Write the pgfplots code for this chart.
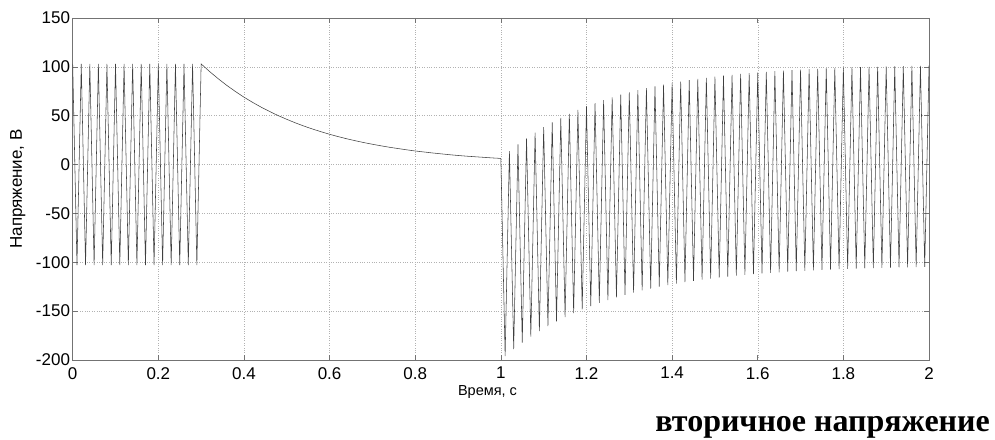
\documentclass[border=0pt]{standalone}
\usepackage{fontspec}
\setmainfont{Liberation Sans}
\newfontfamily\capfont{Liberation Serif}
\usepackage{pgfplots}
\pgfplotsset{compat=1.18}

\begin{document}
\begin{tikzpicture}
\begin{axis}[
  name=ax,
  scale only axis,
  width=856.3bp, height=342bp,
  xmin=0, xmax=2, ymin=-200, ymax=150,
  xtick={0,0.2,0.4,0.6,0.8,1,1.2,1.4,1.6,1.8,2},
  xticklabels={0,0.2,0.4,0.6,0.8,1,1.2,1.4,1.6,1.8,2},
  ytick={-200,-150,-100,-50,0,50,100,150},
  yticklabels={-200,-150,-100,-50,0,50,100,150},
  tick align=inside, tick pos=both,
  major tick length=5bp,
  axis line style={black!55, line width=0.7bp},
  every tick/.style={black!55, line width=0.6bp},
  grid=major,
  grid style={dotted, black!30, line width=0.45bp},
  ticklabel style={font=\fontsize{17bp}{19bp}\selectfont, inner sep=0pt},
  xticklabel style={yshift=-7bp},
  yticklabel style={xshift=-2.5bp},
  xlabel={Время, с},
  xlabel style={at={(axis description cs:0.4844,0)}, anchor=north, yshift=-25bp,
    inner sep=0pt, font=\fontsize{14.5bp}{16bp}\selectfont},
  ylabel={Напряжение, В},
  ylabel style={at={(axis description cs:0,0.5)}, anchor=south, xshift=0bp,
    yshift=47bp, inner sep=0pt, font=\fontsize{17bp}{19bp}\selectfont},
]
% 0 ... 0.3 s: steady 50 Hz, then free decay, then reclosure at 1 s
\addplot[black!75, line width=0.55bp] coordinates {
(0.00,103)(0.01,-103)(0.02,103)(0.03,-103)(0.04,103)(0.05,-103)
(0.06,103)(0.07,-103)(0.08,103)(0.09,-103)(0.10,103)(0.11,-103)
(0.12,103)(0.13,-103)(0.14,103)(0.15,-103)(0.16,103)(0.17,-103)
(0.18,103)(0.19,-103)(0.20,103)(0.21,-103)(0.22,103)(0.23,-103)
(0.24,103)(0.25,-103)(0.26,103)(0.27,-103)(0.28,103)(0.29,-103)
(0.30,103)
(0.32,95.1)(0.34,87.8)(0.36,81.0)(0.38,74.8)(0.40,69.0)(0.42,63.7)
(0.44,58.8)(0.46,54.3)(0.48,50.1)(0.50,46.3)(0.52,42.7)(0.54,39.4)
(0.56,36.4)(0.58,33.6)(0.60,31.0)(0.62,28.6)(0.64,26.4)(0.66,24.4)
(0.68,22.5)(0.70,20.8)(0.72,19.2)(0.74,17.7)(0.76,16.4)(0.78,15.1)
(0.80,13.9)(0.82,12.9)(0.84,11.9)(0.86,11.0)(0.88,10.1)(0.90,9.3)
(0.92,8.6)(0.94,8.0)(0.96,7.4)(0.98,6.8)(1.00,6.3)
(1.01,-195.9)(1.02,13.7)(1.03,-188.8)(1.04,20.6)(1.05,-182.2)(1.06,26.9)
(1.07,-176.1)(1.08,32.8)(1.09,-170.5)(1.10,38.2)(1.11,-165.3)(1.12,43.2)
(1.13,-160.5)(1.14,47.8)(1.15,-156.1)(1.16,52.0)(1.17,-152.0)(1.18,55.9)
(1.19,-148.2)(1.20,59.6)(1.21,-144.8)(1.22,62.9)(1.23,-141.5)(1.24,66.0)
(1.25,-138.6)(1.26,68.8)(1.27,-135.8)(1.28,71.5)(1.29,-133.3)(1.30,73.9)
(1.31,-131.0)(1.32,76.1)(1.33,-128.8)(1.34,78.2)(1.35,-126.9)(1.36,80.1)
(1.37,-125.0)(1.38,81.9)(1.39,-123.3)(1.40,83.5)(1.41,-121.8)(1.42,85.0)
(1.43,-120.3)(1.44,86.4)(1.45,-119.0)(1.46,87.6)(1.47,-117.8)(1.48,88.8)
(1.49,-116.6)(1.50,89.9)(1.51,-115.6)(1.52,90.9)(1.53,-114.6)(1.54,91.9)
(1.55,-113.7)(1.56,92.7)(1.57,-112.9)(1.58,93.5)(1.59,-112.1)(1.60,94.2)
(1.61,-111.4)(1.62,94.9)(1.63,-110.8)(1.64,95.5)(1.65,-110.2)(1.66,96.1)
(1.67,-109.6)(1.68,96.6)(1.69,-109.1)(1.70,97.1)(1.71,-108.7)(1.72,97.6)
(1.73,-108.2)(1.74,98.0)(1.75,-107.8)(1.76,98.4)(1.77,-107.4)(1.78,98.7)
(1.79,-107.1)(1.80,99.1)(1.81,-106.8)(1.82,99.4)(1.83,-106.5)(1.84,99.6)
(1.85,-106.2)(1.86,99.9)(1.87,-106.0)(1.88,100.1)(1.89,-105.8)(1.90,100.4)
(1.91,-105.5)(1.92,100.6)(1.93,-105.3)(1.94,100.8)(1.95,-105.2)(1.96,100.9)
(1.97,-105.0)(1.98,101.1)(1.99,-104.8)(2.00,101.2)
};
\end{axis}
\node[anchor=base east, inner sep=0pt, font=\capfont\bfseries\fontsize{32bp}{34bp}\selectfont]
  at ([xshift=61bp, yshift=-71bp]ax.south east) {вторичное напряжение};
\pgfresetboundingbox
\path ([xshift=-72.7bp, yshift=-80bp]ax.south west) rectangle ([xshift=66bp, yshift=18bp]ax.north east);
\end{tikzpicture}
\end{document}
